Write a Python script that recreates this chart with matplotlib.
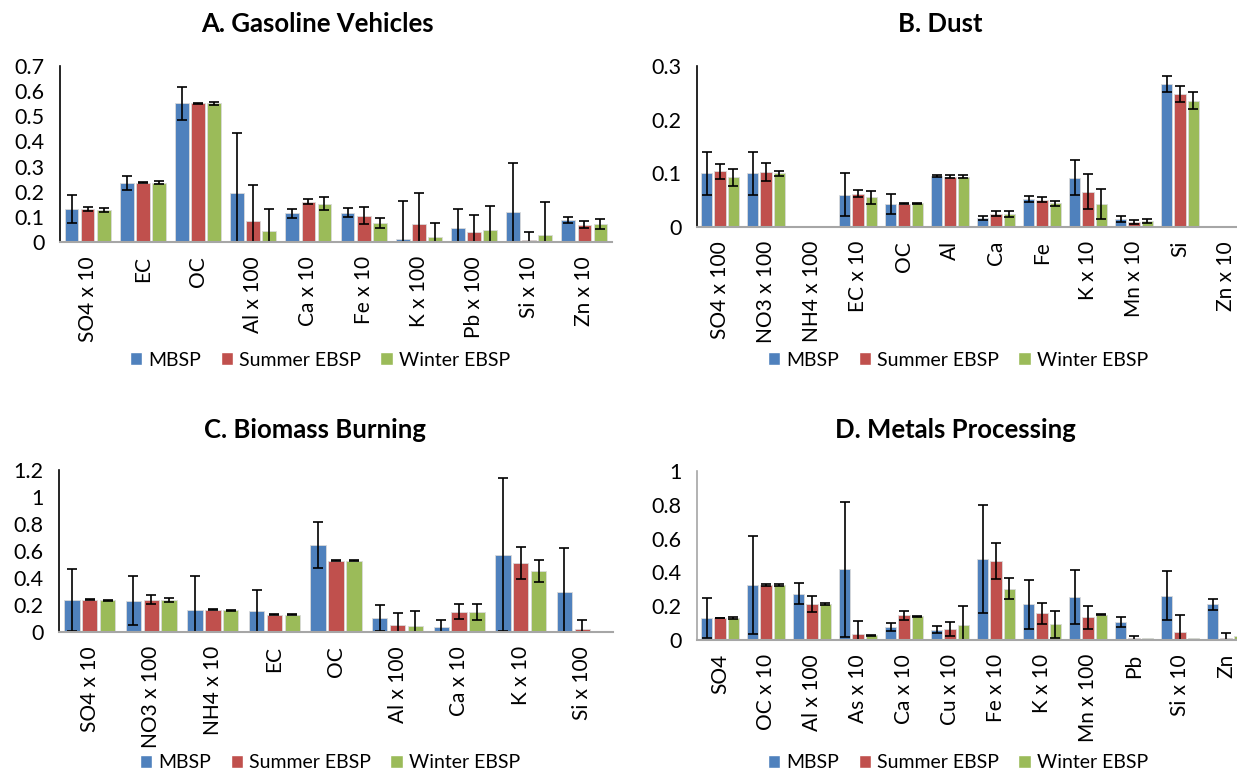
import matplotlib
matplotlib.use("Agg")
import matplotlib.pyplot as plt
from matplotlib.patches import Patch
import numpy as np

plt.rcParams['font.family'] = ['Lato', 'DejaVu Sans']

series_names = ["MBSP", "Summer EBSP", "Winter EBSP"]
colors = ["#4F81BD", "#C0504D", "#9BBB59"]

# A. Gasoline Vehicles
cats_A = ["SO4 x 10", "EC", "OC", "Al x 100", "Ca x 10", "Fe x 10", "K x 100", "Pb x 100", "Si x 10", "Zn x 10"]
mbsp_A = [0.131, 0.235, 0.551, 0.193, 0.115, 0.116, 0.012, 0.055, 0.119, 0.088]
mbsp_A_err = [0.057, 0.028, 0.065, 0.239, 0.018, 0.018, 0.153, 0.077, 0.195, 0.011]
summer_A = [0.133, 0.236, 0.551, 0.083, 0.161, 0.105, 0.071, 0.040, 0.008, 0.069]
summer_A_err = [0.008, 0.003, 0.002, 0.145, 0.009, 0.035, 0.125, 0.068, 0.033, 0.013]
winter_A = [0.129, 0.236, 0.551, 0.043, 0.152, 0.076, 0.019, 0.048, 0.027, 0.072]
winter_A_err = [0.008, 0.005, 0.006, 0.088, 0.025, 0.021, 0.057, 0.095, 0.133, 0.019]

# B. Dust
cats_B = ["SO4 x 100", "NO3 x 100", "NH4 x 100", "EC x 10", "OC", "Al", "Ca", "Fe", "K x 10", "Mn x 10", "Si", "Zn x 10"]
mbsp_B = [0.100, 0.100, 0.001, 0.060, 0.043, 0.095, 0.017, 0.052, 0.092, 0.015, 0.266, 0.001]
mbsp_B_err = [0.040, 0.040, 0, 0.040, 0.018, 0.001, 0.004, 0.005, 0.033, 0.005, 0.015, 0]
summer_B = [0.104, 0.102, 0.001, 0.062, 0.043, 0.094, 0.025, 0.051, 0.066, 0.009, 0.248, 0.001]
summer_B_err = [0.014, 0.017, 0, 0.007, 0.001, 0.002, 0.004, 0.005, 0.033, 0.004, 0.015, 0]
winter_B = [0.093, 0.100, 0, 0.055, 0.044, 0.094, 0.024, 0.044, 0.042, 0.011, 0.235, 0.001]
winter_B_err = [0.016, 0.005, 0, 0.012, 0.001, 0.002, 0.005, 0.005, 0.028, 0.004, 0.016, 0]

# C. Biomass Burning
cats_C = ["SO4 x 10", "NO3 x 100", "NH4 x 10", "EC", "OC", "Al x 100", "Ca x 10", "K x 10", "Si x 100"]
mbsp_C = [0.238, 0.233, 0.164, 0.156, 0.645, 0.104, 0.040, 0.573, 0.300]
mbsp_C_err = [0.231, 0.184, 0.253, 0.156, 0.169, 0.099, 0.047, 0.565, 0.325]
summer_C = [0.240, 0.238, 0.166, 0.129, 0.528, 0.055, 0.151, 0.513, 0.022]
summer_C_err = [0.005, 0.033, 0.006, 0.003, 0.002, 0.084, 0.056, 0.120, 0.067]
winter_C = [0.236, 0.236, 0.161, 0.129, 0.528, 0.045, 0.149, 0.451, 0.005]
winter_C_err = [0.004, 0.016, 0.004, 0.004, 0.002, 0.111, 0.058, 0.083, 0]

# D. Metals Processing
cats_D = ["SO4", "OC x 10", "Al x 100", "As x 10", "Ca x 10", "Cu x 10", "Fe x 10", "K x 10", "Mn x 100", "Pb", "Si x 10", "Zn"]
mbsp_D = [0.128, 0.326, 0.275, 0.418, 0.079, 0.061, 0.481, 0.212, 0.253, 0.106, 0.263, 0.212]
mbsp_D_err = [0.118, 0.289, 0.062, 0.399, 0.024, 0.022, 0.320, 0.144, 0.159, 0.028, 0.143, 0.033]
summer_D = [0.130, 0.326, 0.214, 0.037, 0.145, 0.065, 0.466, 0.157, 0.134, 0.012, 0.049, 0.014]
summer_D_err = [0.002, 0.004, 0.047, 0.073, 0.024, 0.041, 0.106, 0.064, 0.069, 0.013, 0.096, 0.025]
winter_D = [0.130, 0.324, 0.214, 0.029, 0.141, 0.088, 0.303, 0.092, 0.149, 0.010, 0.010, 0.024]
winter_D_err = [0.004, 0.007, 0.005, 0.003, 0.002, 0.112, 0.061, 0.081, 0.003, 0, 0, 0]

W, H = 1237, 772
fig = plt.figure(figsize=(W / 100, H / 100), dpi=100)


def px_axes(left, right, bottom, top):
    return fig.add_axes([left / W, 1 - bottom / H, (right - left) / W, (bottom - top) / H])


def draw_panel(ax, cats, vals, errs, ymax, ystep, left_spine_color):
    n = len(cats)
    x = np.arange(n)
    offsets = [-0.29, 0.0, 0.29]
    for v, e, off, c in zip(vals, errs, offsets, colors):
        v = np.array(v, dtype=float)
        e = np.array(e, dtype=float)
        ax.bar(x + off, v, width=0.25, color=c, edgecolor="#DADADA", linewidth=0.6, zorder=2)
        m = e > 0
        ax.errorbar(x[m] + off, v[m], yerr=e[m], fmt="none", ecolor="black",
                    elinewidth=1.2, capsize=3.5, capthick=1.2, zorder=3)
    ax.set_xlim(-0.5, n - 0.5)
    ax.set_ylim(0, ymax)
    ticks = np.round(np.arange(0, ymax + ystep / 2, ystep), 2)
    ax.set_yticks(ticks)
    ax.set_yticklabels([f"{t:g}" for t in ticks], fontsize=15.5)
    ax.set_xticks(x)
    ax.set_xticklabels(cats, rotation=90, fontsize=15, va="top")
    ax.tick_params(axis="both", length=0)
    ax.tick_params(axis="y", pad=11)
    ax.tick_params(axis="x", pad=10)
    for s in ["top", "right"]:
        ax.spines[s].set_visible(False)
    ax.spines["bottom"].set_color("#A6A6A6")
    ax.spines["bottom"].set_linewidth(1.5)
    ax.spines["left"].set_color(left_spine_color)
    ax.spines["left"].set_linewidth(1.2)
    ax.set_facecolor("none")
    ax.spines["bottom"].set_zorder(4)


def add_legend(cx, cy):
    handles = [Patch(facecolor=c, edgecolor="white") for c in colors]
    fig.legend(handles, series_names, loc="center", bbox_to_anchor=(cx / W, 1 - cy / H),
               ncol=3, frameon=False, fontsize=14, handlelength=0.65, handleheight=0.65,
               handletextpad=0.3, columnspacing=1.0)


axA = px_axes(60, 612, 242, 66)
draw_panel(axA, cats_A, [mbsp_A, summer_A, winter_A], [mbsp_A_err, summer_A_err, winter_A_err], 0.7, 0.1, "black")
axB = px_axes(697, 697 + 12 * 46, 227, 66)
draw_panel(axB, cats_B, [mbsp_B, summer_B, winter_B], [mbsp_B_err, summer_B_err, winter_B_err], 0.3, 0.1, "black")
axC = px_axes(59, 613, 632, 470)
draw_panel(axC, cats_C, [mbsp_C, summer_C, winter_C], [mbsp_C_err, summer_C_err, winter_C_err], 1.2, 0.2, "black")
axD = px_axes(697, 697 + 12 * 46, 640, 471)
draw_panel(axD, cats_D, [mbsp_D, summer_D, winter_D], [mbsp_D_err, summer_D_err, winter_D_err], 1.0, 0.2, "#A6A6A6")

title_kw = dict(fontsize=18.5, fontweight="bold", ha="center", va="center")
fig.text(317 / W, 1 - 24 / H, "A. Gasoline Vehicles", **title_kw)
fig.text(940 / W, 1 - 24 / H, "B. Dust", **title_kw)
fig.text(315 / W, 1 - 430 / H, "C. Biomass Burning", **title_kw)
fig.text(955 / W, 1 - 430 / H, "D. Metals Processing", **title_kw)

add_legend(320, 360)
add_legend(958, 360)
add_legend(330, 763)
add_legend(958, 763)

fig.savefig("out.png", dpi=100)
